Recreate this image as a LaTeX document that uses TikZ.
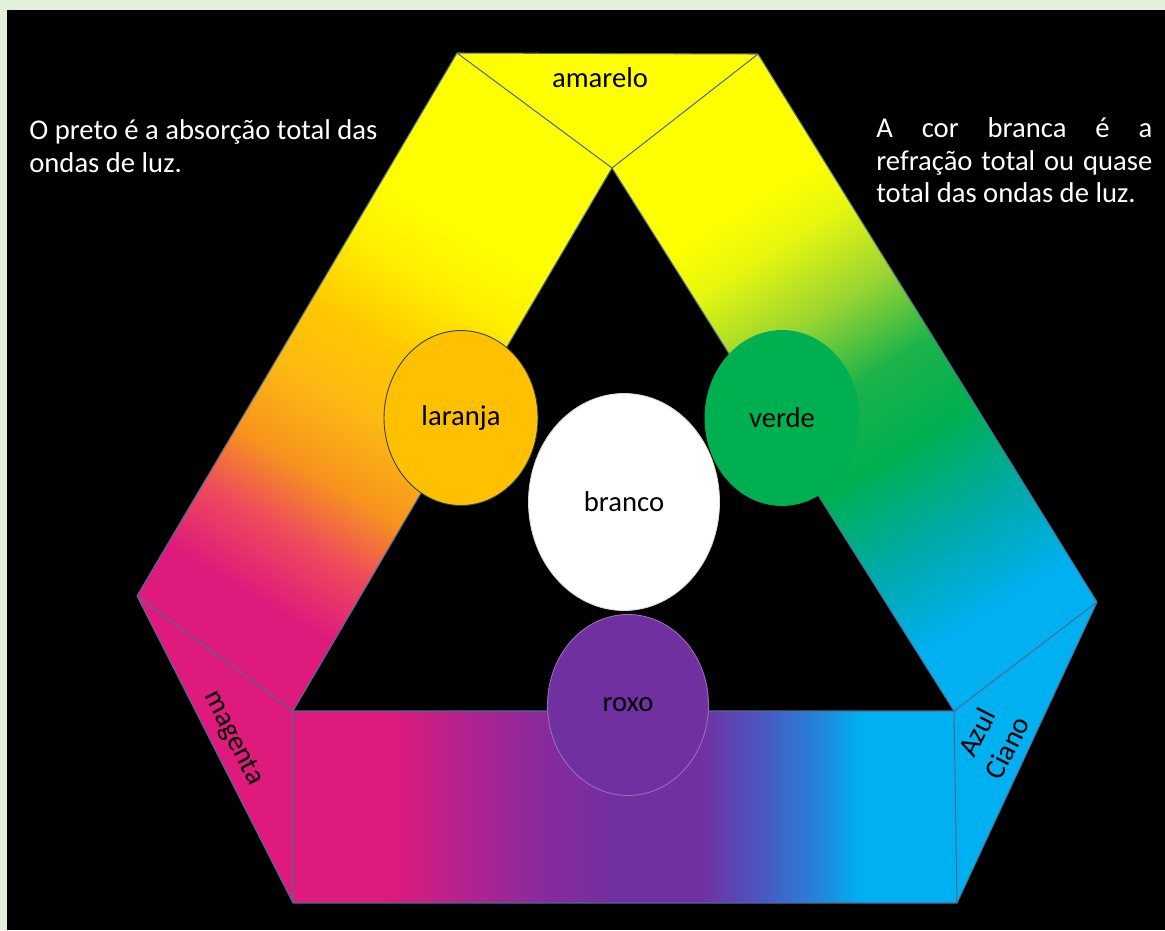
\documentclass[tikz,border=0pt]{standalone}
\usepackage{fontspec}
\setmainfont{Carlito}
\usepackage{xcolor}
\definecolor{frame-green}{HTML}{E2EFD9}
\definecolor{paint-black}{HTML}{000000}
\definecolor{paint-yellow}{HTML}{FFFF00}
\definecolor{paint-lemon}{HTML}{FFF000}
\definecolor{paint-gold}{HTML}{FFC800}
\definecolor{paint-amber}{HTML}{FDB913}
\definecolor{paint-orange}{HTML}{F7931E}
\definecolor{paint-coral}{HTML}{EE4A5C}
\definecolor{paint-magenta}{HTML}{DE1A7C}
\definecolor{paint-violet}{HTML}{B02390}
\definecolor{paint-plum}{HTML}{8A2A9C}
\definecolor{paint-purple}{HTML}{7030A0}
\definecolor{paint-indigo}{HTML}{4B56C1}
\definecolor{paint-azure}{HTML}{2286DC}
\definecolor{paint-cyan}{HTML}{00B0F0}
\definecolor{paint-teal}{HTML}{00AAA8}
\definecolor{paint-green}{HTML}{00B050}
\definecolor{paint-leaf}{HTML}{1DB34A}
\definecolor{paint-lime}{HTML}{9BD531}
\definecolor{paint-chartreuse}{HTML}{E8F70E}
\definecolor{ball-orange}{HTML}{FFC000}
\definecolor{ball-green}{HTML}{00B050}
\definecolor{ball-purple}{HTML}{7030A0}
\definecolor{band-edge}{HTML}{4D6C94}
\usepackage{tikz}
\usetikzlibrary{shapes.geometric}

\pgfdeclareverticalshading{left-band}{100bp}{color(0bp)=(paint-magenta); color(31bp)=(paint-magenta); color(36.5bp)=(paint-coral); color(41.5bp)=(paint-orange); color(47.5bp)=(paint-amber); color(53bp)=(paint-gold); color(59bp)=(paint-lemon); color(64bp)=(paint-yellow); color(100bp)=(paint-yellow)}
\pgfdeclareverticalshading{right-band}{100bp}{color(0bp)=(paint-cyan); color(30bp)=(paint-cyan); color(37bp)=(paint-teal); color(44bp)=(paint-green); color(50bp)=(paint-leaf); color(56bp)=(paint-lime); color(62bp)=(paint-chartreuse); color(66bp)=(paint-yellow); color(100bp)=(paint-yellow)}
\pgfdeclarehorizontalshading{bottom-band}{100bp}{color(0bp)=(paint-magenta); color(32.3bp)=(paint-magenta); color(38.3bp)=(paint-violet); color(43.6bp)=(paint-plum); color(49.6bp)=(paint-purple); color(55.6bp)=(paint-purple); color(60.2bp)=(paint-indigo); color(64.7bp)=(paint-azure); color(67.7bp)=(paint-cyan); color(100bp)=(paint-cyan)}

\tikzset{
    band-line/.style={draw=band-edge, line width=0.6pt, line join=round},
    ball/.style={ellipse, inner sep=0pt, line width=0.5pt, font=\fontsize{16.3}{19}\selectfont},
    caption/.style={inner sep=0pt, text=black, font=\fontsize{16.3}{19.3}\selectfont},
    note/.style={inner sep=0pt, text=white, align=left, font=\fontsize{16.3}{18.7}\selectfont}
}

\begin{document}
\begin{tikzpicture}[x=0.02cm, y=-0.02cm]

    % Frame
    \useasboundingbox (0,0) rectangle (1165,930);
    \fill[frame-green] (0,0) rectangle (1165,930);
    \fill[paint-black] (7,10) rectangle (1165,930);

    % Corners
    \coordinate (tl) at (457,53);
    \coordinate (tr) at (758,54);
    \coordinate (apex) at (612,168);
    \coordinate (ml) at (137,596);
    \coordinate (il) at (293,711);
    \coordinate (mb) at (293,903);
    \coordinate (cr) at (1097,602);
    \coordinate (ir) at (954,711);
    \coordinate (cb) at (957,903);

    % Left band
    \begin{scope}
        \clip (tl) -- (apex) -- (il) -- (ml) -- cycle;
        \shade[shading=left-band, transform canvas={rotate around={-30.6:(374.75,381.75)}}] (264.75,56.75) rectangle (484.75,706.75);
    \end{scope}

    % Right band
    \begin{scope}
        \clip (tr) -- (cr) -- (ir) -- (apex) -- cycle;
        \shade[shading=right-band, transform canvas={rotate around={31.75:(855.25,383.75)}}] (745.25,52.75) rectangle (965.25,714.75);
    \end{scope}

    % Bottom band
    \shade[shading=bottom-band] (il) -- (ir) -- (cb) -- (mb) -- cycle;

    % Corner pieces
    \fill[paint-yellow] (tl) -- (tr) -- (apex) -- cycle;
    \fill[paint-magenta] (ml) -- (il) -- (mb) -- cycle;
    \fill[paint-cyan] (cr) -- (cb) -- (ir) -- cycle;

    % Outlines
    \draw[band-line] (tl) -- (apex) -- (il) -- (ml) -- cycle;
    \draw[band-line] (tr) -- (cr) -- (ir) -- (apex) -- cycle;
    \draw[band-line] (tl) -- (tr);
    \draw[band-line] (il) -- (ir) -- (cb) -- (mb) -- cycle;
    \draw[band-line] (ml) -- (mb);
    \draw[band-line] (cr) -- (cb);

    % Mixed colours
    \node[ball, fill=ball-orange, draw=band-edge!60!black, minimum width=3.08cm, minimum height=3.5cm] (laranja) at (461,418) {laranja};
    \node[ball, fill=ball-green, draw=ball-green, minimum width=3.08cm, minimum height=3.5cm] (verde) at (782,418) {verde};
    \node[ball, fill=white, draw=white!85!black, minimum width=3.82cm, minimum height=4.34cm] (branco) at (624,502) {branco};
    \node[ball, fill=ball-purple, draw=ball-purple!70!white, minimum width=3.22cm, minimum height=3.62cm] (roxo) at (628,705) {roxo};

    % Band labels
    \node[caption] (amarelo) at (600,78) {amarelo};
    \node[caption, rotate=-63] (magenta) at (233,738) {magenta};
    \node[caption, rotate=63, align=center] (ciano) at (992,740) {Azul\\Ciano};

    % Notes
    \node[note, anchor=north west] (preto) at (29,119) {O preto é a absorção total das\\ondas de luz.};
    \node[note, anchor=north west] (branca) at (876,117) {\makebox[5.52cm][s]{A cor branca é a}\\\makebox[5.52cm][s]{refração total ou quase}\\total das ondas de luz.};

\end{tikzpicture}
\end{document}
